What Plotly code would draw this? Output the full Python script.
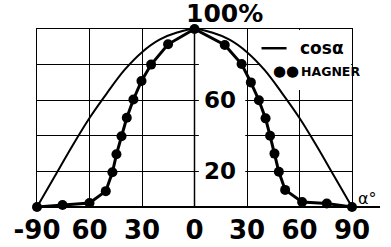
import plotly.graph_objects as go

# Angle (degrees) and relative intensity (%)
cos_alpha = [-90, -80, -70, -60, -50, -40, -30, -20, -10, 0, 10, 20, 30, 40, 50, 60, 70, 80, 90]
cos_value = [0, 17, 34, 50, 64, 77, 87, 94, 98, 100, 98, 94, 87, 77, 64, 50, 34, 17, 0]

hagner_alpha = [-90, -75.4, -60, -50.7, -46.9, -44.6, -41.7, -38.7, -34.9, -30.3, -24.8, -15.1, 0,
                17.3, 26.9, 32.2, 36.8, 40.6, 43.2, 45.7, 48.2, 51.8, 61.5, 75.6, 90]
hagner_value = [0, 1.1, 2.2, 8.9, 19.5, 29.6, 39.7, 50.1, 60.4, 70.8, 80, 91.4, 100,
                91, 80.3, 70, 60, 49.8, 40, 30, 19.8, 9.6, 2.8, 2, 0]

tick_vals = [-90, -60, -30, 0, 30, 60, 90]
tick_text = ["-90", "60", "30", "0", "30", "60", "90"]
y_labels = [60, 20]

FONT = "DejaVu Sans"

fig = go.Figure()
fig.add_trace(go.Scatter(x=cos_alpha, y=cos_value, mode="lines",
                         line=dict(color="black", width=2, shape="spline"),
                         cliponaxis=False, showlegend=False))
fig.add_trace(go.Scatter(x=hagner_alpha, y=hagner_value, mode="lines+markers",
                         line=dict(color="black", width=3),
                         marker=dict(color="black", size=10),
                         cliponaxis=False, showlegend=False))

shapes = [
    # white areas hiding grid lines
    dict(type="rect", xref="x", yref="y", x0=2.5, x1=29, y0=0.5, y1=99.5,
         fillcolor="white", line=dict(width=0), layer="between"),
    dict(type="rect", xref="x", yref="y", x0=37, x1=89.5, y0=65.7, y1=99.5,
         fillcolor="white", line=dict(width=0), layer="between"),
    # vertical line at 0
    dict(type="line", xref="x", yref="y", x0=0, x1=0, y0=0, y1=100,
         line=dict(color="black", width=1.5), layer="between"),
    # extended baseline
    dict(type="line", xref="paper", yref="paper", x0=0, x1=1.089, y0=0, y1=0,
         line=dict(color="black", width=2), layer="above"),
    # legend line
    dict(type="line", xref="x", yref="y", x0=38.3, x1=52.6, y0=89.2, y1=89.2,
         line=dict(color="black", width=2.5), layer="above"),
]

annotations = [
    dict(x=0.468, y=1.085, xref="paper", yref="paper", text="100%", showarrow=False,
         xanchor="left", yanchor="middle",
         font=dict(family=FONT, size=25, color="black", weight="bold")),
    dict(x=59.4, y=89.2, xref="x", yref="y", text="cos\u03b1", showarrow=False,
         xanchor="left", yanchor="middle",
         font=dict(family=FONT, size=17, color="black", weight="bold")),
    dict(x=52, y=76.4, xref="x", yref="y", text="\u25cf\u25cf", showarrow=False,
         xanchor="center", yanchor="middle",
         font=dict(family=FONT, size=15, color="black")),
    dict(x=59.6, y=76.4, xref="x", yref="y", text="HAGNER", showarrow=False,
         xanchor="left", yanchor="middle",
         font=dict(family=FONT, size=12.5, color="black", weight="bold")),
    dict(x=1.013, y=0.045, xref="paper", yref="paper", text="\u03b1\u00b0", showarrow=False,
         xanchor="left", yanchor="middle",
         font=dict(family=FONT, size=16, color="black")),
]
for v in y_labels:
    annotations.append(dict(x=14.5, y=v, xref="x", yref="y", text=str(v), showarrow=False,
                            xanchor="center", yanchor="middle", bgcolor="white",
                            font=dict(family=FONT, size=23, color="black", weight="bold")))

fig.update_layout(
    width=391, height=247,
    margin=dict(l=37, r=39, t=29, b=40),
    paper_bgcolor="white", plot_bgcolor="white",
    shapes=shapes, annotations=annotations,
    xaxis=dict(range=[-90, 90], tickvals=tick_vals, ticktext=tick_text,
               showgrid=True, gridcolor="black", gridwidth=1,
               zeroline=False,
               showline=True, mirror=True, linecolor="black", linewidth=1,
               ticks="", automargin=False,
               tickfont=dict(family=FONT, size=26, color="black", weight="bold"),
               fixedrange=True),
    yaxis=dict(range=[0, 100], dtick=20, showticklabels=False,
               showgrid=True, gridcolor="black", gridwidth=1,
               zeroline=False, showline=True, mirror=True, linecolor="black", linewidth=1,
               ticks="", automargin=False, fixedrange=True),
)

fig.write_html("out.html")
